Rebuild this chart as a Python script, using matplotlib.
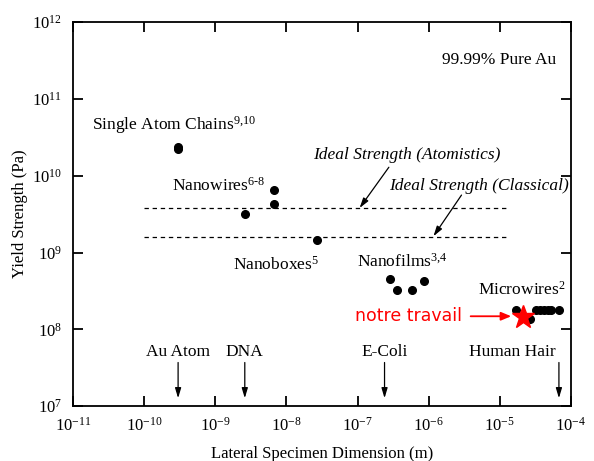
import matplotlib
matplotlib.use("Agg")
import matplotlib.pyplot as plt

plt.rcParams['font.family'] = 'Liberation Serif'
plt.rcParams['mathtext.fontset'] = 'custom'
plt.rcParams['mathtext.rm'] = 'Liberation Serif'
plt.rcParams['mathtext.it'] = 'Liberation Serif:italic'

# Données
chains_x = [3.0e-10, 3.0e-10]
chains_y = [2.2e10, 2.4e10]
nanowires_x = [6.8e-9, 6.8e-9, 2.6e-9]
nanowires_y = [6.5e9, 4.3e9, 3.15e9]
nanoboxes_x = [2.7e-8]
nanoboxes_y = [1.45e9]
nanofilms_x = [2.9e-7, 3.6e-7, 5.9e-7, 8.5e-7]
nanofilms_y = [4.5e8, 3.3e8, 3.3e8, 4.2e8]
microwires_x = [1.7e-5, 2.65e-5, 3.2e-5, 3.7e-5, 4.2e-5, 4.8e-5, 5.2e-5, 6.8e-5]
microwires_y = [1.78e8, 1.35e8, 1.78e8, 1.8e8, 1.78e8, 1.78e8, 1.78e8, 1.78e8]
travail_x = [2.1e-5]
travail_y = [1.45e8]

ideal_x = [1e-10, 1.3e-5]
ideal_atom = 3.8e9
ideal_class = 1.6e9

refs = ['Au Atom', 'DNA', 'E-Coli', 'Human Hair']
refs_x = [3.0e-10, 2.6e-9, 2.4e-7, 6.8e-5]
refs_text_x = [3.0e-10, 2.6e-9, 2.4e-7, 1.5e-5]

x_ticks = [1e-11, 1e-10, 1e-9, 1e-8, 1e-7, 1e-6, 1e-5, 1e-4]
y_ticks = [1e7, 1e8, 1e9, 1e10, 1e11, 1e12]

fig = plt.figure(figsize=(5.94, 4.61), dpi=100)
ax = fig.add_axes([0.123, 0.119, 0.838, 0.833])
ax.set_xscale('log')
ax.set_yscale('log')
ax.set_xticks(x_ticks)
ax.set_yticks(y_ticks)
ax.set_xlim(1e-11, 1e-4)
ax.set_ylim(1e7, 1e12)

# lignes de résistance idéale
ax.plot(ideal_x, [ideal_atom, ideal_atom], 'k--', lw=0.9, dashes=(3.5, 3))
ax.plot(ideal_x, [ideal_class, ideal_class], 'k--', lw=0.9, dashes=(3.5, 3))

for xs, ys in [(chains_x, chains_y), (nanowires_x, nanowires_y),
               (nanoboxes_x, nanoboxes_y), (nanofilms_x, nanofilms_y),
               (microwires_x, microwires_y)]:
    ax.plot(xs, ys, 'o', color='black', ms=5.5, ls='none')

ax.plot(travail_x, travail_y, '*', color='red', ms=17, mec='red')

fs = 12.5
ax.text(6.2e-5, 3.2e11, '99.99% Pure Au', fontsize=fs, va='center', ha='right')
ax.text(1.85e-11, 4.6e10, 'Single Atom Chains$^{9{,}10}$', fontsize=fs, va='center')
ax.text(2.47e-10, 7.3e9, 'Nanowires$^{6\u20108}$', fontsize=fs, va='center')
ax.text(2.4e-8, 1.85e10, 'Ideal Strength (Atomistics)', fontsize=fs, style='italic', va='center')
ax.text(2.8e-7, 7.3e9, 'Ideal Strength (Classical)', fontsize=fs, style='italic', va='center')
ax.text(1.78e-9, 6.9e8, 'Nanoboxes$^{5}$', fontsize=fs, va='center')
ax.text(9.8e-8, 7.5e8, 'Nanofilms$^{3{,}4}$', fontsize=fs, va='center')
ax.text(4.9e-6, 3.24e8, 'Microwires$^{2}$', fontsize=fs, va='center')

arrow = dict(arrowstyle='-|>,head_length=0.6,head_width=0.18', color='black', lw=0.9,
             shrinkA=0, shrinkB=0)
ax.annotate('', xy=(1.07e-7, 3.8e9), xytext=(2.76e-7, 1.29e10), arrowprops=arrow)
ax.annotate('', xy=(1.17e-6, 1.63e9), xytext=(2.9e-6, 5.6e9), arrowprops=arrow)

# notre travail
ax.text(9.3e-8, 1.48e8, 'notre travail', fontsize=12.5, color='red',
        family='DejaVu Sans', va='center')
ax.annotate('', xy=(1.45e-5, 1.48e8), xytext=(3.9e-6, 1.48e8),
            arrowprops=dict(arrowstyle='-|>,head_length=0.6,head_width=0.25',
                            color='red', lw=1.3, shrinkA=0, shrinkB=0))

for name, xa, xt in zip(refs, refs_x, refs_text_x):
    ax.text(xt, 5.0e7, name, fontsize=fs, ha='center', va='center')
    ax.annotate('', xy=(xa, 1.27e7), xytext=(xa, 3.7e7), arrowprops=arrow)

ax.tick_params(which='major', direction='in', length=7, width=1.3, top=True, right=True,
               labelsize=12, pad=8)
ax.tick_params(which='minor', length=0)
ax.minorticks_off()
for s in ax.spines.values():
    s.set_linewidth(1.3)

ax.set_xlabel('Lateral Specimen Dimension (m)', fontsize=12, labelpad=8)
ax.set_ylabel('Yield Strength (Pa)', fontsize=12, labelpad=3)

fig.savefig('out.png', dpi=100)
